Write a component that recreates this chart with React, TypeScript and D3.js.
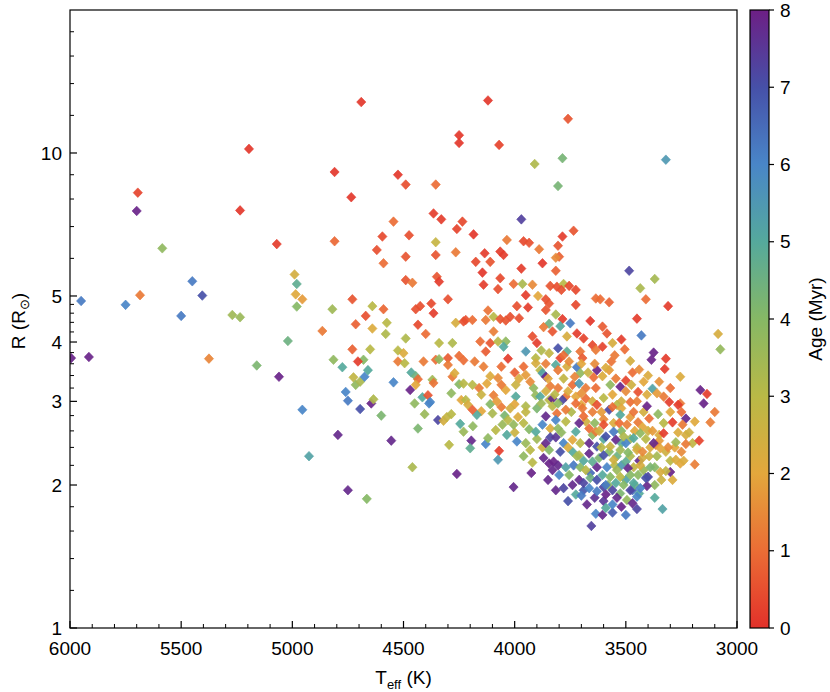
import React from "react";
import * as d3 from "d3";

// [Teff (K), R (Rsun), Age (Myr)]
const hotStars: number[][] = [
  [5995, 3.70, 7.9], [5915, 3.72, 7.9], [5950, 4.88, 6.2], [5750, 4.79, 6.0], [5685, 5.02, 1.2],
  [5700, 7.55, 7.9], [5695, 8.25, 0.3], [5585, 6.30, 3.8], [5450, 5.37, 6.2], [5405, 5.01, 7.0],
  [5500, 4.54, 6.2], [5375, 3.69, 1.4], [5235, 7.57, 0.1], [5195, 10.2, 0.1], [5070, 6.43, 0.2],
  [5270, 4.56, 3.5], [5235, 4.51, 3.6], [5160, 3.57, 4.2], [5060, 3.38, 7.9], [5020, 4.02, 4.5],
  [4990, 5.55, 2.4], [4980, 5.30, 4.8], [4985, 5.04, 2.1], [4955, 4.92, 1.8], [4980, 4.75, 4.0],
  [4955, 2.88, 6.0], [4925, 2.30, 5.2], [4865, 4.22, 1.2], [4820, 4.69, 3.5], [4815, 3.67, 3.8],
  [4775, 3.54, 5.0], [4760, 3.14, 6.0], [4750, 3.01, 6.2], [4795, 2.55, 7.8], [4750, 1.95, 7.8],
  [4665, 1.87, 4.0], [4695, 2.89, 7.0], [4645, 2.97, 7.9], [4635, 3.03, 3.2], [4600, 2.80, 4.2],
  [4555, 2.48, 7.8], [4545, 3.29, 6.0],
];

const warmStars: number[][] = [
  [4725, 3.37, 2.8], [4715, 3.25, 3.8], [4695, 3.30, 3.3], [4675, 3.38, 6.0], [4660, 3.49, 5.0],
  [4680, 3.67, 4.0], [4705, 3.64, 0.2], [4650, 3.86, 3.0], [4640, 4.27, 2.2], [4640, 4.76, 3.0],
  [4670, 4.54, 0.5], [4715, 4.36, 0.8], [4730, 3.86, 0.8], [4730, 4.92, 0.6], [4590, 4.69, 0.9],
  [4575, 4.39, 3.0], [4580, 4.16, 3.2], [4545, 7.17, 1.0], [4595, 6.67, 0.4], [4620, 6.25, 0.5],
  [4590, 5.86, 1.0], [4735, 8.07, 0.1], [4810, 9.12, 0.1], [4810, 6.52, 0.9], [4690, 12.8, 0.1],
  [4525, 9.0, 0.1], [4525, 3.84, 3.0], [4525, 3.64, 1.2],
];

const giantStars: number[][] = [
  [4120, 12.9, 0.1], [3760, 11.8, 0.6], [4250, 10.9, 0.1], [4250, 10.5, 0.1], [4070, 10.4, 0.3],
  [3910, 9.48, 3.2], [3785, 9.75, 4.3], [3320, 9.68, 5.5], [3805, 8.52, 4.3], [4490, 8.58, 0.5],
  [4355, 8.58, 1.0], [4475, 6.71, 0.5], [4490, 6.05, 0.6], [4355, 6.49, 2.7], [4355, 6.10, 0.6],
  [4365, 7.46, 0.2], [4330, 7.25, 0.2], [4235, 7.17, 0.4], [4260, 6.92, 0.3], [4185, 6.74, 0.1],
  [4265, 6.18, 1.2], [4175, 5.90, 0.4], [4135, 6.15, 0.2], [4145, 5.60, 0.1], [4110, 5.90, 0.6],
  [4065, 6.20, 0.2], [4050, 6.10, 0.2], [4065, 5.45, 0.4], [4035, 6.56, 1.2], [3970, 7.25, 7.3],
  [3960, 6.52, 0.4], [3935, 6.47, 0.5], [3890, 6.27, 1.2], [3970, 5.71, 0.2], [3875, 5.86, 0.1],
  [3805, 6.38, 0.6], [3785, 6.67, 0.2], [3735, 6.86, 0.6], [3800, 6.05, 0.8], [3815, 6.02, 1.5],
  [3815, 5.65, 0.8], [3485, 5.65, 7.2], [3370, 5.43, 3.4],
];

const coolUpperStars: number[][] = [
  [3435, 5.19, 3.3], [3410, 4.92, 1.0], [3575, 4.85, 0.8], [3615, 4.92, 1.0], [3310, 4.76, 0.2],
  [3450, 4.48, 0.2], [3430, 4.13, 6.2], [3085, 4.16, 2.3], [3075, 3.86, 3.7], [3605, 4.31, 0.7],
  [3585, 4.17, 0.6], [3520, 4.05, 0.2], [3560, 3.98, 2.3], [3505, 3.86, 1.0], [3605, 3.91, 0.3],
  [3375, 3.80, 7.9], [3385, 3.67, 7.9], [3320, 3.69, 0.2], [3325, 3.51, 0.2], [3255, 3.38, 2.2],
  [3470, 3.45, 1.0], [3500, 3.32, 0.3], [3525, 3.22, 7.9], [3575, 3.49, 1.8], [3565, 3.64, 1.1],
  [3590, 3.53, 2.2], [3605, 3.39, 2.2], [3570, 3.25, 3.8], [3445, 3.14, 0.5], [3380, 3.19, 5.2],
  [3360, 3.12, 1.8], [3330, 3.07, 1.2], [3165, 3.17, 7.9], [3135, 3.11, 0.2], [3150, 2.97, 7.9],
  [3480, 2.99, 1.0], [3305, 2.99, 0.2], [3255, 2.97, 1.2],
  [3560, 3.10, 2.0], [3520, 3.00, 2.4], [3500, 3.15, 1.5], [3545, 3.35, 1.2], [3475, 3.25, 2.5],
  [3600, 3.05, 3.0], [3450, 3.00, 1.3], [3420, 3.30, 2.0], [3405, 3.10, 2.2], [3540, 2.95, 3.0],
];

const coolLowerStars: number[][] = [
  [3405, 2.93, 7.9], [3265, 2.95, 0.2], [3100, 2.85, 1.2], [3120, 2.71, 1.3], [3230, 2.76, 7.8],
  [3190, 2.72, 2.1], [3245, 2.68, 1.2], [3290, 2.71, 0.2], [3330, 2.57, 0.2], [3265, 2.58, 2.2],
  [3215, 2.58, 2.5], [3170, 2.48, 0.3], [3230, 2.44, 1.2], [3275, 2.46, 3.5], [3310, 2.40, 1.5],
  [3365, 2.43, 1.4], [3375, 2.45, 7.8], [3345, 2.39, 2.0], [3190, 2.21, 1.3], [3255, 2.22, 2.0],
  [3275, 2.26, 2.2], [3240, 2.25, 2.2], [3300, 2.13, 7.9], [3320, 2.14, 2.8], [3345, 2.13, 2.3],
  [3370, 2.18, 4.0], [3390, 2.18, 4.2], [3425, 2.28, 2.4], [3400, 2.08, 7.2], [3405, 1.99, 7.8],
  [3370, 1.88, 5.0], [3335, 1.78, 5.2], [3450, 1.78, 7.2], [3500, 1.73, 6.2], [3605, 1.73, 7.8],
  [3575, 2.88, 7.2], [3525, 2.81, 5.0], [3560, 2.92, 1.0], [3465, 2.85, 1.1], [3395, 2.76, 1.0],
  [3355, 2.82, 3.8], [3445, 2.71, 1.2], [3425, 2.65, 2.0], [3495, 2.68, 1.3], [3530, 2.70, 1.0],
  [3600, 2.68, 0.5], [3555, 2.59, 6.2], [3510, 2.53, 3.2], [3465, 2.51, 5.0], [3435, 2.57, 3.8],
  [3545, 2.49, 7.8], [3590, 2.53, 7.0], [3570, 2.41, 2.6], [3525, 2.37, 3.5], [3490, 2.34, 4.0],
  [3450, 2.37, 2.3], [3425, 2.35, 1.5], [3600, 2.31, 7.0], [3555, 2.26, 2.5], [3500, 2.24, 4.8],
  [3465, 2.18, 2.8], [3435, 2.20, 2.3], [3585, 2.18, 6.0], [3540, 2.15, 3.6], [3490, 2.17, 7.8],
  [3605, 2.10, 5.0], [3570, 2.08, 4.0], [3525, 2.08, 3.0], [3480, 2.10, 4.0], [3445, 2.10, 3.9],
  [3410, 2.07, 7.0], [3590, 2.00, 6.2], [3545, 2.02, 5.0], [3510, 2.00, 4.0], [3465, 2.02, 5.0],
  [3435, 1.97, 6.0], [3560, 1.95, 7.2], [3480, 1.95, 7.2], [3525, 1.92, 4.2], [3590, 1.91, 7.9],
  [3540, 1.88, 7.8], [3450, 1.89, 6.0], [3495, 1.86, 3.7], [3470, 1.83, 7.8], [3560, 1.82, 6.0],
  [3590, 1.79, 5.0],
];

const coreStars: number[][] = [
  [4190, 2.88, 0.8], [4188, 2.66, 3.8], [4195, 2.48, 7.8], [4200, 2.39, 4.8], [4070, 2.36, 0.2],
  [4075, 2.26, 5.5], [4130, 2.44, 6.0], [4120, 2.51, 3.8], [4085, 2.61, 3.0], [4055, 2.68, 3.6],
  [4030, 2.74, 3.0], [4005, 2.68, 3.7], [4035, 2.55, 5.0], [3990, 2.47, 6.0], [3950, 2.45, 3.6],
  [3930, 2.37, 3.0], [3920, 2.23, 3.0], [3925, 2.12, 7.9], [4005, 1.98, 7.8], [3860, 2.45, 7.8],
  [3860, 2.79, 7.8], [3880, 2.97, 3.5], [3830, 2.93, 3.0], [3805, 2.97, 3.8], [3810, 2.83, 1.1],
  [3770, 2.88, 1.2], [3725, 2.97, 1.0], [3695, 2.90, 1.2], [3690, 2.79, 1.0], [3650, 2.85, 1.3],
  [3630, 2.95, 0.5], [3875, 2.68, 6.0], [3905, 2.59, 5.0], [3815, 2.74, 6.0], [3770, 2.72, 3.0],
  [3840, 2.63, 2.2], [3805, 2.63, 3.8], [3710, 2.70, 7.8], [3665, 2.63, 1.0], [3635, 2.59, 1.2],
  [3725, 2.59, 5.0], [3840, 2.52, 7.2], [3815, 2.52, 7.5], [3780, 2.45, 6.0], [3740, 2.49, 2.0],
  [3705, 2.45, 3.0], [3665, 2.45, 7.8], [3630, 2.41, 7.0], [3845, 2.37, 4.0], [3795, 2.35, 7.0],
  [3740, 2.35, 5.0], [3710, 2.31, 3.0], [3665, 2.33, 7.8], [3870, 2.28, 7.8], [3845, 2.22, 7.9],
  [3825, 2.24, 7.9], [3805, 2.20, 7.8], [3830, 2.15, 7.8], [3770, 2.18, 5.2], [3735, 2.20, 6.2],
  [3705, 2.18, 4.0], [3650, 2.24, 4.8], [3630, 2.18, 7.8], [3755, 2.10, 4.0], [3710, 2.05, 7.8],
  [3690, 2.02, 7.2], [3660, 2.07, 4.5], [3630, 2.05, 7.0], [3815, 1.95, 7.8], [3780, 1.97, 7.2],
  [3725, 1.91, 5.0], [3665, 1.97, 6.0], [3630, 1.94, 6.2], [3675, 1.82, 7.8], [3655, 1.64, 7.3],
  [3635, 1.74, 6.0],
  [3790, 2.58, 3.8], [3760, 2.40, 2.2], [3720, 2.30, 3.5], [3690, 2.25, 5.0], [3800, 2.10, 6.0],
  [3740, 2.00, 7.8], [3700, 1.90, 6.2], [3850, 2.05, 7.8], [3760, 1.85, 7.0], [3680, 2.15, 3.0],
  [3620, 2.28, 4.2], [3610, 2.40, 3.0], [3620, 2.60, 2.5], [3600, 2.75, 1.5], [3640, 2.70, 3.8],
  [3555, 2.70, 2.2], [3520, 2.60, 4.0], [3500, 2.45, 6.0], [3480, 2.30, 3.2], [3460, 2.60, 2.0],
  [3540, 2.30, 4.5], [3580, 2.00, 3.8], [3520, 2.20, 5.5], [3460, 2.00, 4.5], [3440, 2.25, 7.8],
  [3395, 2.30, 2.6], [3410, 2.50, 3.0], [3380, 2.60, 1.8], [3350, 2.55, 2.2], [3360, 2.30, 3.4],
];

const denseStars: number[][] = [
  [3700, 2.95, 2.0], [3745, 2.85, 3.2], [3680, 2.72, 2.5], [3650, 2.55, 3.8], [3600, 2.50, 5.0],
  [3575, 2.35, 4.0], [3550, 2.20, 3.0], [3500, 2.05, 5.2], [3470, 1.95, 6.5], [3440, 1.92, 5.0],
  [3420, 2.15, 3.6], [3390, 2.40, 2.2], [3350, 2.48, 1.8], [3320, 2.35, 2.5], [3300, 2.25, 3.0],
  [3280, 2.40, 2.0], [3250, 2.35, 1.5], [3230, 2.55, 2.3], [3200, 2.45, 2.8], [3250, 2.85, 1.0],
  [3300, 2.85, 2.0], [3330, 2.70, 3.0], [3420, 2.85, 2.4], [3480, 2.78, 1.8], [3520, 2.90, 2.0],
  [3610, 2.85, 1.8], [3650, 3.00, 2.4], [3700, 3.12, 1.6], [3760, 3.15, 2.2], [3820, 3.10, 3.0],
  [3860, 3.15, 2.4], [3900, 2.90, 4.2], [3950, 2.85, 2.8], [4020, 2.90, 2.4], [4080, 3.00, 1.8],
  [4150, 3.10, 2.6], [4060, 3.25, 1.2], [3980, 3.35, 2.2], [3930, 3.30, 1.5], [3850, 3.35, 2.0],
  [3780, 3.35, 2.8], [3730, 3.38, 1.4], [3670, 3.45, 2.6], [3640, 3.60, 1.5], [3700, 3.60, 2.0],
  [3780, 3.75, 1.0], [3860, 3.60, 1.3], [3960, 3.55, 1.0], [4000, 3.45, 0.8], [4060, 3.55, 1.0],
  [3550, 3.75, 1.2], [3480, 3.65, 2.4], [3440, 3.50, 1.5], [3400, 3.40, 2.2], [3350, 3.30, 1.6],
  [3300, 3.20, 1.0], [3600, 1.85, 7.5], [3560, 1.75, 6.8], [3520, 1.80, 7.9], [3640, 1.88, 7.6],
  [3690, 1.95, 6.8], [3600, 1.98, 7.2], [3660, 2.12, 6.5], [3520, 2.45, 4.8], [3480, 2.50, 3.5],
  [3400, 2.60, 2.5], [3450, 2.40, 3.0], [3370, 2.00, 3.8], [3340, 2.05, 2.6], [3290, 2.05, 2.2],
];

const midLowStars: number[][] = [
  [4450, 2.97, 3.8], [4405, 2.82, 3.6], [4385, 2.97, 6.0], [4345, 2.74, 7.2], [4320, 2.73, 2.4],
  [4305, 2.78, 2.7], [4285, 2.82, 3.0], [4435, 2.63, 4.2], [4245, 2.69, 5.0], [4230, 2.59, 3.6],
  [4295, 2.43, 3.0], [4460, 2.18, 3.3], [4260, 2.11, 7.9],
  [4210, 2.95, 2.3], [4150, 2.86, 2.0], [4170, 2.81, 5.0], [4100, 2.83, 3.3], [4045, 2.80, 4.2],
  [3985, 2.78, 2.2], [3960, 2.70, 3.0], [3935, 2.62, 4.0], [4000, 2.58, 2.6], [3900, 2.50, 3.5],
  [3875, 2.40, 2.5], [3960, 2.30, 3.8], [4110, 2.96, 4.0], [4060, 2.92, 1.2], [4000, 2.96, 2.0],
  [3950, 2.93, 3.2],
];

const midUpperStars: number[][] = [
  [4490, 5.40, 0.6], [4460, 5.33, 1.2], [4350, 5.49, 0.6], [4340, 5.36, 0.2], [4445, 4.69, 0.5],
  [4425, 4.76, 0.5], [4375, 4.82, 0.4], [4300, 4.92, 0.5], [4365, 4.60, 0.2], [4435, 4.35, 0.4],
  [4400, 4.16, 1.0], [4490, 4.07, 3.2], [4340, 3.98, 3.0], [4280, 3.98, 3.2], [4265, 4.39, 2.3],
  [4230, 4.42, 0.5], [4500, 3.79, 2.2], [4495, 3.61, 3.0], [4410, 3.64, 1.2], [4355, 3.67, 1.0],
  [4340, 3.68, 3.8], [4300, 3.70, 0.7], [4250, 3.74, 1.0], [4300, 3.58, 1.2], [4230, 3.66, 1.0],
  [4470, 3.17, 7.9], [4465, 3.45, 5.0], [4445, 3.39, 4.5], [4435, 3.34, 1.0], [4445, 3.25, 2.0],
  [4415, 3.06, 5.0], [4390, 3.09, 0.6], [4380, 2.99, 6.0], [4370, 3.33, 3.5], [4365, 3.28, 1.1],
  [4280, 3.38, 1.2], [4270, 3.44, 2.2], [4250, 3.26, 4.0], [4285, 3.12, 3.8], [4230, 3.27, 3.0],
  [4240, 3.02, 2.0],
];

const centralStars: number[][] = [
  [4005, 5.30, 1.0], [3965, 5.30, 3.3], [3920, 5.28, 1.5], [4140, 5.28, 0.2], [4075, 5.17, 0.5],
  [3840, 5.25, 0.6], [3810, 5.23, 0.5], [3780, 5.30, 3.0], [3755, 5.25, 0.4], [3725, 5.15, 0.4],
  [3790, 5.15, 0.5], [3635, 4.94, 1.0], [3950, 5.02, 0.2], [3895, 5.00, 2.0], [3860, 4.92, 0.5],
  [3990, 4.76, 0.5], [3940, 4.73, 0.2], [3845, 4.82, 0.6], [3860, 4.67, 0.6], [3725, 4.79, 0.4],
  [4120, 4.66, 1.1], [4220, 4.45, 0.5], [4190, 4.45, 1.0], [4130, 4.45, 1.2], [4095, 4.52, 3.0],
  [4065, 4.47, 0.6], [4040, 4.44, 0.6], [4020, 4.52, 0.5], [3980, 4.49, 0.5], [3815, 4.57, 3.3],
  [3785, 4.47, 0.2], [3750, 4.38, 6.2], [3660, 4.43, 0.1], [3845, 4.37, 4.5], [3870, 4.30, 1.2],
  [3830, 4.21, 0.6], [3795, 4.32, 5.0], [3765, 4.11, 2.3], [3720, 4.17, 0.2], [3690, 4.07, 0.3],
  [4095, 4.21, 1.3], [3920, 4.11, 0.5], [3900, 3.98, 0.2], [4155, 4.01, 1.0], [4110, 3.98, 0.6],
  [4075, 4.01, 3.0], [4040, 4.01, 3.8], [4050, 3.91, 5.0], [4130, 3.82, 0.7], [3950, 3.82, 5.5],
  [3880, 3.84, 3.2], [3845, 3.79, 2.8], [3805, 3.88, 7.0], [3765, 3.82, 4.8], [3705, 3.82, 1.1],
  [3650, 3.94, 0.4], [3635, 3.85, 1.2], [4030, 3.69, 0.2], [3905, 3.70, 3.0], [3905, 3.61, 2.3],
  [3795, 3.70, 0.3], [3695, 3.70, 0.7], [4180, 3.64, 1.2], [4140, 3.55, 1.3], [3885, 3.49, 3.0],
  [3815, 3.58, 5.0], [3765, 3.55, 2.3], [3720, 3.54, 6.2], [3755, 3.64, 1.5], [3630, 3.49, 7.9],
  [3875, 3.44, 5.2], [3860, 3.38, 7.8], [3805, 3.49, 1.2], [3705, 3.44, 3.8], [3645, 3.37, 1.0],
  [4110, 3.39, 2.2], [3950, 3.41, 1.8], [3995, 3.25, 2.6], [4075, 3.36, 1.5], [4190, 3.25, 3.0],
  [4125, 3.27, 2.0], [4160, 3.20, 1.2], [4040, 3.17, 2.0], [4095, 3.09, 1.3], [3915, 3.20, 3.8],
  [3905, 3.09, 3.7], [3840, 3.23, 1.3], [3805, 3.20, 1.2], [3740, 3.25, 1.0], [3710, 3.27, 5.5],
  [3680, 3.20, 1.2], [3635, 3.20, 1.0], [3770, 3.07, 1.1], [3725, 3.07, 2.0], [3680, 3.04, 1.0],
  [3845, 3.02, 3.0], [4220, 3.02, 3.0], [3995, 3.07, 5.0], [3885, 3.07, 5.0], [3830, 3.04, 7.8],
  [3785, 3.02, 7.2],
];

const xTickValues = [6000, 5500, 5000, 4500, 4000, 3500, 3000];
const yTickValues = [1, 2, 3, 4, 5, 10];
const yMinorTickValues = [1.2, 1.4, 1.6, 1.8, 2.2, 2.4, 2.6, 2.8, 3.2, 3.4, 3.6, 3.8,
  4.2, 4.4, 4.6, 4.8, 6, 7, 8, 9, 12, 14, 16, 18];
const ageTickValues = [0, 1, 2, 3, 4, 5, 6, 7, 8];

const palette = ["#e2312a", "#eb6d35", "#e3a73c", "#b9b946", "#86b865", "#55a99c", "#4986c8", "#4650a8", "#6d1f85"];

const FONT = "'Liberation Sans', Arial, sans-serif";

export default function App() {
  const left = 70, right = 737, top = 10, bottom = 628;
  const x = d3.scaleLinear().domain([6000, 3000]).range([left, right]);
  const y = d3.scaleLog().domain([1, 20]).range([bottom, top]);
  const color = d3.scaleLinear<string>().domain(d3.range(9)).range(palette).interpolate(d3.interpolateRgb).clamp(true);
  const cbX = 750, cbW = 19;
  const cbY = d3.scaleLinear().domain([0, 8]).range([bottom, top]);

  const stars = [
    ...hotStars, ...warmStars, ...giantStars, ...midUpperStars, ...centralStars,
    ...midLowStars, ...coolUpperStars, ...denseStars, ...coreStars, ...coolLowerStars,
  ];
  const xMinor = d3.range(3000, 6001, 100).filter((v) => v % 500 !== 0);
  const diamond = "M0,-4.8L4.6,0L0,4.8L-4.6,0Z";

  return (
    <svg width={830} height={692} style={{ position: "absolute", left: 0, top: 0, background: "#fff" }}
      fontFamily={FONT}>
      <defs>
        <linearGradient id="cb" x1="0" y1="1" x2="0" y2="0">
          {ageTickValues.map((a) => (
            <stop key={a} offset={a / 8} stopColor={color(a)} />
          ))}
        </linearGradient>
        <clipPath id="plotclip">
          <rect x={left} y={top} width={right - left} height={bottom - top} />
        </clipPath>
      </defs>

      <g clipPath="url(#plotclip)">
        {stars.map((d, i) => (
          <path key={i} d={diamond} transform={`translate(${x(d[0])},${y(d[1])})`}
            fill={color(d[2])} stroke={color(d[2])} strokeWidth={0.6} fillOpacity={0.92} />
        ))}
      </g>

      <rect x={left} y={top} width={right - left} height={bottom - top} fill="none" stroke="#000" strokeWidth={1.2} />

      {xTickValues.map((v) => (
        <g key={v}>
          <line x1={x(v)} x2={x(v)} y1={bottom} y2={bottom - 7} stroke="#000" strokeWidth={1.2} />
          <text x={x(v)} y={bottom + 27} textAnchor="middle" fontSize={19}>{v}</text>
        </g>
      ))}
      {xMinor.map((v) => (
        <line key={v} x1={x(v)} x2={x(v)} y1={bottom} y2={bottom - 4} stroke="#000" strokeWidth={1} />
      ))}
      {yTickValues.map((v) => (
        <g key={v}>
          <line x1={left} x2={left + 7} y1={y(v)} y2={y(v)} stroke="#000" strokeWidth={1.2} />
          <text x={left - 8} y={y(v)} dy="0.35em" textAnchor="end" fontSize={19}>{v}</text>
        </g>
      ))}
      {yMinorTickValues.map((v) => (
        <line key={v} x1={left} x2={left + 4} y1={y(v)} y2={y(v)} stroke="#000" strokeWidth={1} />
      ))}

      <text x={(left + right) / 2} y={684} textAnchor="middle" fontSize={19}>
        T<tspan fontSize={13} dy="5">eff</tspan><tspan dy="-5"> (K)</tspan>
      </text>
      <text transform={`translate(25,${(top + bottom) / 2 + 2}) rotate(-90)`} textAnchor="middle" fontSize={19}>
        R (R<tspan fontSize={13} dy="4">⊙</tspan><tspan dy="-4">)</tspan>
      </text>

      <rect x={cbX} y={top} width={cbW} height={bottom - top} fill="url(#cb)" stroke="#000" strokeWidth={1.2} />
      {ageTickValues.map((a) => (
        <g key={a}>
          <line x1={cbX + cbW} x2={cbX + cbW + 5} y1={cbY(a)} y2={cbY(a)} stroke="#000" strokeWidth={1.2} />
          <text x={cbX + cbW + 11} y={cbY(a)} dy="0.35em" fontSize={19}>{a}</text>
        </g>
      ))}
      <text transform={`translate(822,${(top + bottom) / 2}) rotate(-90)`} textAnchor="middle" fontSize={19}>
        Age (Myr)
      </text>
    </svg>
  );
}
